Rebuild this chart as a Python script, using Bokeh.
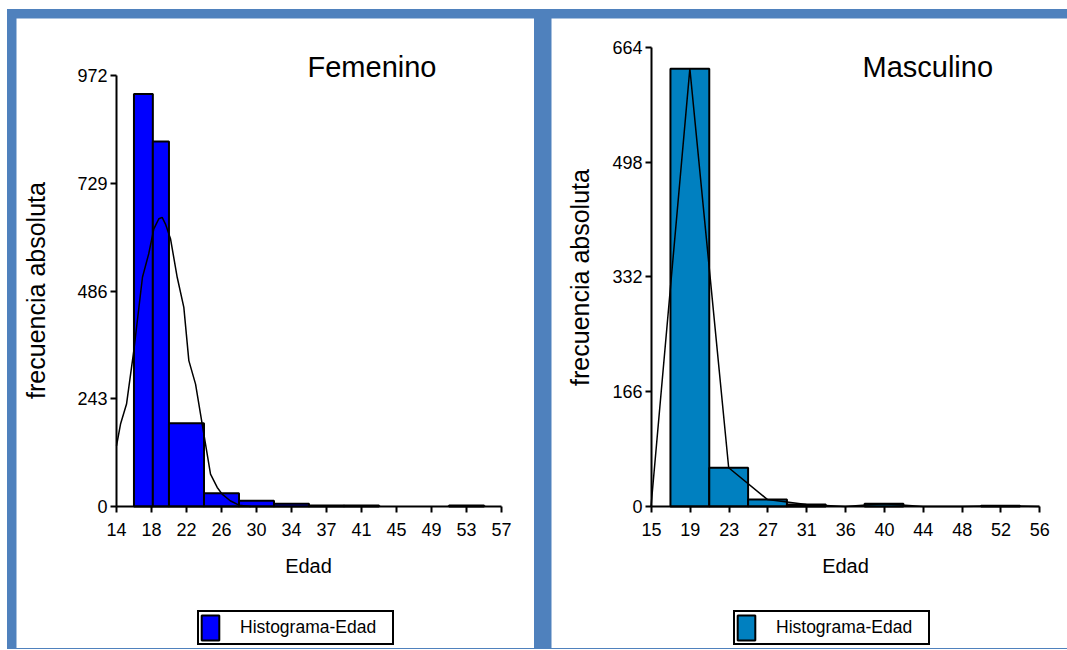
import math
from bokeh.plotting import figure
from bokeh.models import Range1d, FixedTicker, Legend, LegendItem, Label, ColumnDataSource
from bokeh.layouts import row
from bokeh.embed import file_html
from bokeh.resources import INLINE

# ---------------- data ----------------
fem_title = "Femenino"
fem_x_ticklabels = ["14", "18", "22", "26", "30", "34", "37", "41", "45", "49", "53", "57"]
fem_x_min, fem_x_max = 14, 57
fem_y_ticks = [0, 243, 486, 729, 972]
fem_bin_left = [15.95, 18.06, 19.86, 23.77, 27.68, 31.59, 35.50, 39.41, 51.14]
fem_bin_right = [18.06, 19.86, 23.77, 27.68, 31.59, 35.50, 39.41, 43.32, 55.05]
fem_counts = [930, 823, 188, 30, 13, 6, 2, 2, 2]
fem_curve_x = [14.0, 14.45, 15.12, 15.93, 16.9, 17.6, 18.17, 18.73, 19.1, 19.47, 20.03,
               20.78, 21.52, 22.08, 22.83, 23.57, 24.5, 25.25, 25.8, 26.7, 27.68, 29.0]
fem_curve_y = [137, 186, 231, 351, 517, 570, 626, 649, 652, 637, 604,
               517, 449, 329, 276, 186, 73, 43, 28, 13, 3, 0]

masc_title = "Masculino"
masc_x_ticklabels = ["15", "19", "23", "27", "31", "36", "40", "44", "48", "52", "56"]
masc_x_min, masc_x_max = 15, 56
masc_y_ticks = [0, 166, 332, 498, 664]
masc_bin_left = [17.0, 21.1, 25.2, 29.3, 37.5, 49.8]
masc_bin_right = [21.1, 25.2, 29.3, 33.4, 41.6, 53.9]
masc_counts = [633, 56, 10, 3, 4, 1]
masc_poly_x = [14.95, 19.05, 23.15, 27.25, 31.35, 35.45, 39.55, 43.65, 47.75, 51.85, 55.95]
masc_poly_y = [0, 633, 56, 10, 3, 0, 4, 0, 0, 1, 0]

legend_label = "Histograma-Edad"
x_label = "Edad"
y_label = "frecuencia absoluta"

FONT = "Liberation Sans"
FRAME_BLUE = "#4f81bd"


def lin(a_px, a_val, b_px, b_val):
    return lambda px: a_val + (px - a_px) * (b_val - a_val) / (b_px - a_px)


def make_panel(width, height, geom, xmin, xmax, xlabels, yticks, left, right, counts,
               lx, ly, fill, title):
    # geom: pixel layout inside this canvas (positions only)
    fx = lin(geom["x0"], xmin, geom["x1"], xmax)
    fy = lin(geom["y0"], yticks[0], geom["y1"], yticks[-1])
    p = figure(width=width, height=height, output_backend="svg", toolbar_location=None,
               x_range=Range1d(fx(0), fx(width)), y_range=Range1d(fy(height), fy(0)),
               min_border_left=0, min_border_right=0, min_border_top=0, min_border_bottom=0)
    p.xgrid.visible = False
    p.ygrid.visible = False
    p.outline_line_color = None
    p.background_fill_color = "white"
    p.border_fill_color = "white"

    n = len(xlabels)
    xticks = [round(xmin + i * (xmax - xmin) / (n - 1), 6) for i in range(n)]
    p.xaxis.ticker = FixedTicker(ticks=xticks)
    p.xaxis.major_label_overrides = {t: l for t, l in zip(xticks, xlabels)}
    p.xaxis.bounds = (xmin, xmax)
    p.xaxis.fixed_location = yticks[0]
    p.yaxis.ticker = FixedTicker(ticks=yticks)
    p.yaxis.bounds = (yticks[0], yticks[-1])
    p.yaxis.fixed_location = xmin

    for ax in (p.xaxis[0], p.yaxis[0]):
        ax.axis_line_width = 2
        ax.axis_line_color = "black"
        ax.major_tick_line_width = 2
        ax.major_tick_line_color = "black"
        ax.major_tick_in = 0
        ax.major_tick_out = 6
        ax.minor_tick_line_color = None
        ax.major_label_text_font = FONT
        ax.major_label_text_font_size = "18px"
        ax.major_label_text_color = "black"
    p.xaxis.major_label_standoff = 10
    p.yaxis.major_label_standoff = 3

    src = ColumnDataSource(dict(left=left, right=right, top=counts, bottom=[0] * len(counts)))
    bars = p.quad(left="left", right="right", top="top", bottom="bottom", source=src,
                  fill_color=fill, line_color="black", line_width=2)
    p.line(lx, ly, line_color="black", line_width=1.5)

    p.add_layout(Label(x=fx(geom["title"][0]), y=fy(geom["title"][1]), text=title,
                       text_font=FONT, text_font_size="29px", text_color="black",
                       text_baseline="alphabetic"))
    p.add_layout(Label(x=fx(geom["xlab"][0]), y=fy(geom["xlab"][1]), text=x_label,
                       text_font=FONT, text_font_size="20px", text_color="black",
                       text_align="center", text_baseline="alphabetic"))
    p.add_layout(Label(x=fx(geom["ylab"][0]), y=fy(geom["ylab"][1]), text=y_label,
                       text_font=FONT, text_font_size="25px", text_color="black",
                       text_align="center", text_baseline="middle", angle=math.pi / 2))

    legend = Legend(items=[LegendItem(label=legend_label, renderers=[bars])],
                    location=geom["legend"], orientation="vertical",
                    border_line_color="black", border_line_width=2, border_line_alpha=1.0,
                    background_fill_color="white", background_fill_alpha=1.0,
                    padding=0, margin=0, spacing=0,
                    glyph_width=22, glyph_height=31, label_standoff=19, label_width=152,
                    label_text_font=FONT, label_text_font_size="17.5px",
                    label_text_color="black")
    p.add_layout(legend, "center")
    return p


geom_fem = dict(x0=100, x1=485, y0=488, y1=57, title=(291, 48), xlab=(292, 547),
                ylab=(19.5, 272), legend=(181, 3))
geom_masc = dict(x0=100, x1=488.3, y0=488, y1=28.7, title=(311, 48), xlab=(294, 547),
                 ylab=(28, 259), legend=(182, 3))

p1 = make_panel(518, 630, geom_fem, fem_x_min, fem_x_max, fem_x_ticklabels, fem_y_ticks,
                fem_bin_left, fem_bin_right, fem_counts, fem_curve_x, fem_curve_y,
                "#0000ff", fem_title)
p2 = make_panel(516, 630, geom_masc, masc_x_min, masc_x_max, masc_x_ticklabels, masc_y_ticks,
                masc_bin_left, masc_bin_right, masc_counts, masc_poly_x, masc_poly_y,
                "#0080c0", masc_title)

layout = row(p1, p2, spacing=17,
             styles={"background-color": FRAME_BLUE, "padding": "9px 0px 1px 9px",
                     "margin": "9px 0px 0px 7px"})

open("out.html", "w").write(file_html(layout, INLINE))
